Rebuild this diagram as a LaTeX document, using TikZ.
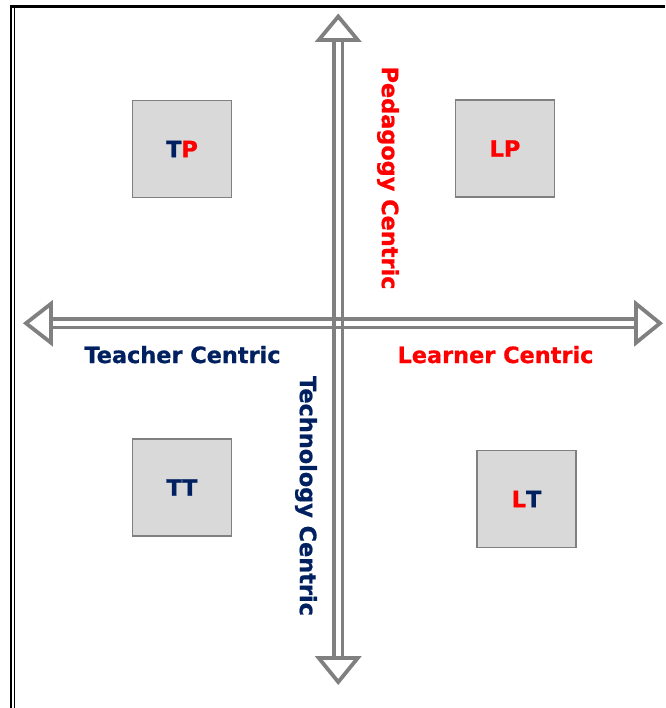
\documentclass[tikz,border=0pt]{standalone}
\usepackage{fontspec}
\setsansfont{DejaVu Sans}[BoldFeatures={FakeBold=0.9}]
\definecolor{navy}{HTML}{002060}
\definecolor{axisgray}{HTML}{808080}
\definecolor{boxfill}{HTML}{D9D9D9}
\definecolor{labelred}{HTML}{FF0000}
\begin{document}
\begin{tikzpicture}[x=1pt,y=-1pt,
  quad/.style={draw=axisgray, line width=1.5pt, fill=boxfill, minimum width=99pt, minimum height=97pt, inner sep=0pt, font=\sffamily\bfseries\fontsize{22.4}{26}\selectfont},
  axlabel/.style={font=\sffamily\bfseries\fontsize{22.4}{26}\selectfont, inner sep=0pt},
  shaft/.style={draw=axisgray, line width=3.8pt},
  head/.style={draw=axisgray, line width=3.8pt, fill=white, line join=miter}]
\useasboundingbox (0,0) rectangle (665,708);
% frame
\draw[line width=2.6pt] (665,6.5) -- (11,6.5) -- (11,708);
\draw[line width=1.6pt] (14.5,8) -- (14.5,708);
% axis shafts
\coordinate (vt1) at (334,40); \coordinate (vb1) at (334,658);
\coordinate (vt2) at (342.5,40); \coordinate (vb2) at (342.5,658);
\coordinate (hl1) at (51,319); \coordinate (hr1) at (636,319);
\coordinate (hl2) at (51,327.5); \coordinate (hr2) at (636,327.5);
\draw[shaft] (vt1) -- (vb1);
\draw[shaft] (vt2) -- (vb2);
\draw[shaft] (hl1) -- (hr1);
\draw[shaft] (hl2) -- (hr2);
% arrow heads
\draw[head] (338.25,16.5) -- (357.75,40) -- (318.75,40) -- cycle;
\draw[head] (338.25,682) -- (357.75,658) -- (318.75,658) -- cycle;
\draw[head] (26,323.25) -- (51,303.75) -- (51,342.75) -- cycle;
\draw[head] (660,323.25) -- (636,303.75) -- (636,342.75) -- cycle;
% quadrant boxes
\node[quad] (TP) at (182,149) {\textcolor{navy}{T}\textcolor{labelred}{P}};
\node[quad] (LP) at (505,148.5) {\textcolor{labelred}{LP}};
\node[quad] (TT) at (182,487.5) {\textcolor{navy}{TT}};
\node[quad] (LT) at (526.5,499) {\textcolor{labelred}{L}\textcolor{navy}{T}};
% axis labels
\node[axlabel, text=navy, anchor=base] (tc) at (182.5,363) {Teacher Centric};
\node[axlabel, text=labelred, anchor=base] (lc) at (495.5,363) {Learner Centric};
\node[axlabel, text=labelred, rotate=-90] (pc) at (388,178) {Pedagogy Centric};
\node[axlabel, text=navy, rotate=-90] (tec) at (306,496) {Technology Centric};
\end{tikzpicture}
\end{document}
